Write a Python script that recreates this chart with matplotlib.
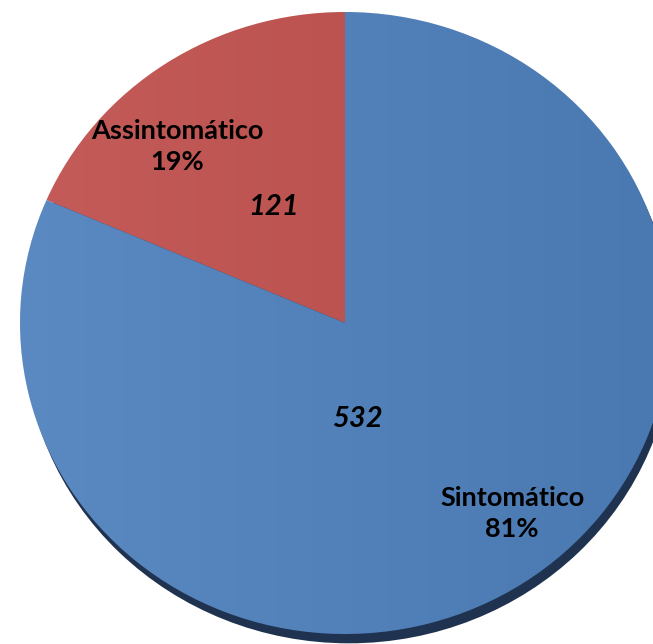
import numpy as np
import matplotlib.pyplot as plt
from matplotlib.colors import LinearSegmentedColormap
from matplotlib.patches import Ellipse

# data
categories = ["Assintomático", "Sintomático"]
counts = [121, 532]
percent_labels = ["19%", "81%"]

colors = ['#C0504D', '#4F81BD']

fig = plt.figure(figsize=(6.53, 6.44), dpi=100)
ax = fig.add_axes([0, 0, 1, 1])

# slightly wider than tall, like the original
rx, ry = 325 / 653, 311 / 644   # radii in figure fractions
cx, cy = 345 / 653, 321 / 644   # center in figure fractions

# shadow under the pie
shadow = Ellipse((0.012, -0.03), 2, 2, facecolor='#1F3350', edgecolor='none', zorder=0)
ax.add_patch(shadow)

wedges, _ = ax.pie(counts, colors=colors, startangle=90, counterclock=True,
                   radius=1, center=(0, 0), wedgeprops=dict(linewidth=0))

# soft horizontal shading on each wedge
grad = np.linspace(0, 1, 256).reshape(1, -1)
shade = LinearSegmentedColormap.from_list('g', ['#ffffff', '#000000'])
for w in wedges:
    im = ax.imshow(grad, extent=(-1, 1, -1, 1), cmap=shade, alpha=0.07,
                   aspect='auto', zorder=3)
    im.set_clip_path(w)

ax.set_aspect('auto')
ax.set_xlim(-cx / rx, (1 - cx) / rx)
ax.set_ylim(-cy / ry, (1 - cy) / ry)
ax.axis('off')

font = ['Lato', 'DejaVu Sans']
fs = 19.5

# category / percent labels
ax.text(-0.517, 0.566, categories[0] + "\n" + percent_labels[0], ha='center', va='center',
        fontsize=fs, fontweight='bold', family=font, linespacing=1.35, zorder=5)
ax.text(0.514, -0.612, categories[1] + "\n" + percent_labels[1], ha='center', va='center',
        fontsize=fs, fontweight='bold', family=font, linespacing=1.35, zorder=5)

# counts
ax.text(-0.22, 0.372, str(counts[0]), ha='center', va='center',
        fontsize=fs + 1.5, fontweight='bold', fontstyle='italic', family=font, zorder=5)
ax.text(0.037, -0.31, str(counts[1]), ha='center', va='center',
        fontsize=fs + 1.5, fontweight='bold', fontstyle='italic', family=font, zorder=5)

fig.savefig("out.png", dpi=100)
